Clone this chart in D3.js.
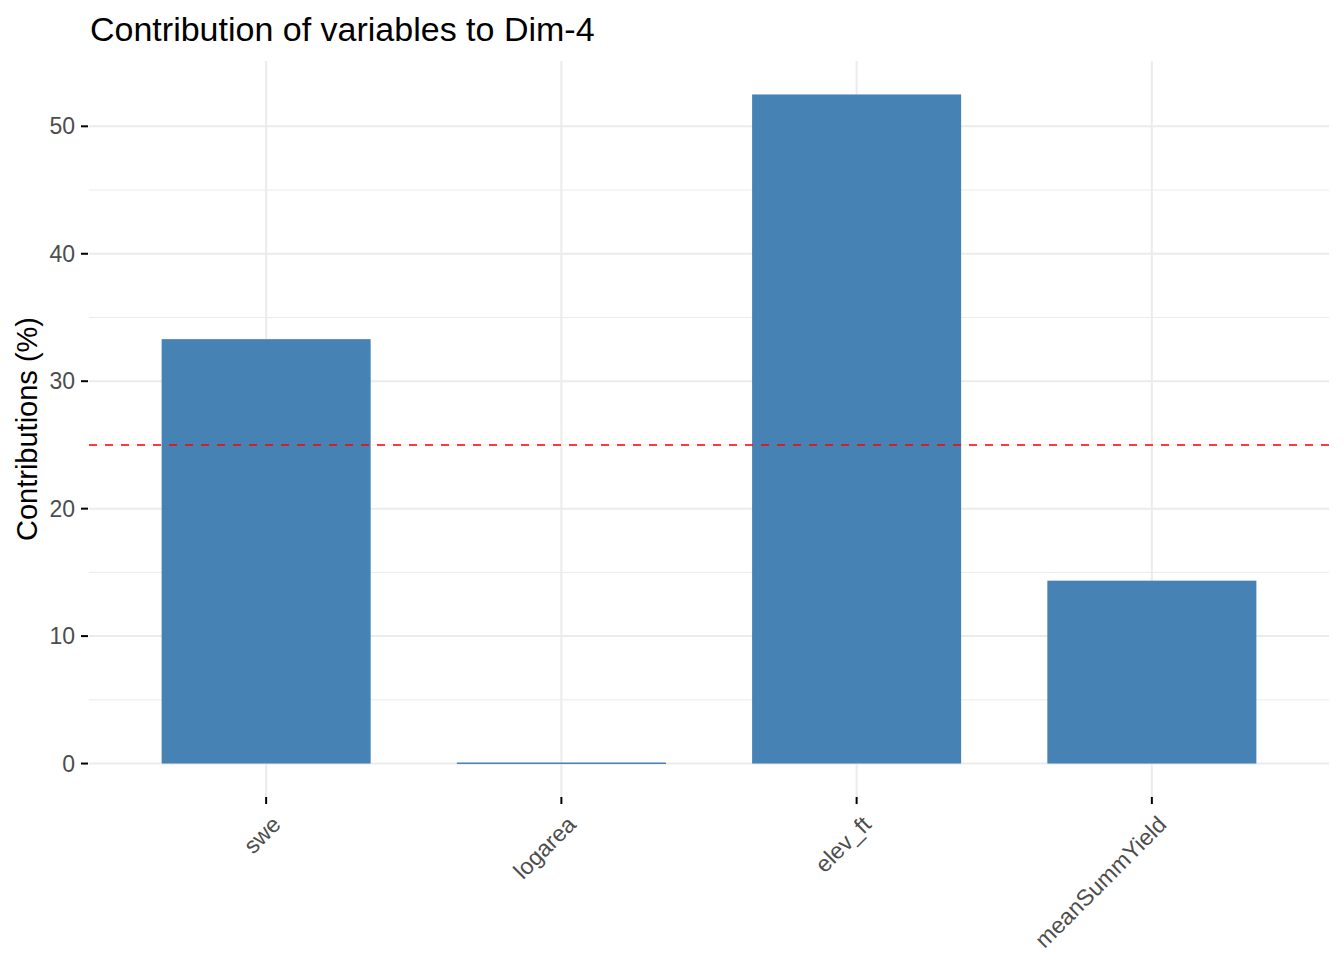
<!DOCTYPE html>
<html><head><meta charset="utf-8">
<script src="https://cdn.jsdelivr.net/npm/d3@7"></script>
<style>body{margin:0;background:#fff}svg{display:block}text{font-family:"Liberation Sans",Arial,sans-serif}</style>
</head><body>
<svg id="c" width="1344" height="960"></svg>
<script>
const categories = ["swe", "logarea", "elev_ft", "meanSummYield"];
const contributions = [33.3, 0.08, 52.5, 14.35];
const refLine = 25;
const yTicks = [0, 10, 20, 30, 40, 50];
const yMinor = [5, 15, 25, 35, 45];
const titleText = "Contribution of variables to Dim-4";
const yTitle = "Contributions (%)";

const svg = d3.select("#c");
const panel = {left: 89, right: 1329, top: 61, bottom: 797};

const maxV = d3.max(contributions);
const ext = maxV * 0.05;
const y = d3.scaleLinear().domain([-ext, maxV + ext]).range([panel.bottom, panel.top]);
const xc = d3.scaleLinear().domain([0.4, categories.length + 0.6]).range([panel.left, panel.right]);
const x = i => xc(i + 1);
const barW = (xc(1.708) - xc(1));

svg.append("g").selectAll("line").data(yMinor).join("line")
  .attr("x1", panel.left).attr("x2", panel.right)
  .attr("y1", d => y(d)).attr("y2", d => y(d))
  .attr("stroke", "#ebebeb").attr("stroke-width", 1);
svg.append("g").selectAll("line").data(yTicks).join("line")
  .attr("x1", panel.left).attr("x2", panel.right)
  .attr("y1", d => y(d)).attr("y2", d => y(d))
  .attr("stroke", "#ebebeb").attr("stroke-width", 2);
svg.append("g").selectAll("line").data(categories).join("line")
  .attr("x1", (d, i) => x(i)).attr("x2", (d, i) => x(i))
  .attr("y1", panel.top).attr("y2", panel.bottom)
  .attr("stroke", "#ebebeb").attr("stroke-width", 2);

svg.append("g").selectAll("rect").data(contributions).join("rect")
  .attr("x", (d, i) => x(i) - barW / 2)
  .attr("width", barW)
  .attr("y", d => y(d))
  .attr("height", d => Math.max(1.5, y(0) - y(d)))
  .attr("fill", "#4682B4");

svg.append("line")
  .attr("x1", panel.left).attr("x2", panel.right)
  .attr("y1", y(refLine)).attr("y2", y(refLine))
  .attr("stroke", "red").attr("stroke-width", 1.6)
  .attr("stroke-dasharray", "8,8");

const ya = svg.append("g");
ya.selectAll("line").data(yTicks).join("line")
  .attr("x1", panel.left - 8).attr("x2", panel.left - 1)
  .attr("y1", d => y(d)).attr("y2", d => y(d))
  .attr("stroke", "#000").attr("stroke-width", 2);
ya.selectAll("text").data(yTicks).join("text")
  .attr("x", panel.left - 14).attr("y", d => y(d))
  .attr("dy", "0.35em").attr("text-anchor", "end")
  .attr("fill", "#4d4d4d").attr("font-size", 23)
  .text(d => d);

const xa = svg.append("g");
xa.selectAll("line").data(categories).join("line")
  .attr("x1", (d, i) => x(i)).attr("x2", (d, i) => x(i))
  .attr("y1", panel.bottom).attr("y2", panel.bottom + 7)
  .attr("stroke", "#000").attr("stroke-width", 2);
xa.selectAll("text").data(categories).join("text")
  .attr("transform", (d, i) => `translate(${x(i) + 16},${panel.bottom + 29}) rotate(-45)`)
  .attr("text-anchor", "end")
  .attr("fill", "#4d4d4d").attr("font-size", 23)
  .text(d => d);

svg.append("text").attr("x", 90).attr("y", 41)
  .attr("font-size", 34).attr("fill", "#000").text(titleText);
svg.append("text")
  .attr("transform", `translate(37,${(panel.top + panel.bottom) / 2}) rotate(-90)`)
  .attr("text-anchor", "middle")
  .attr("font-size", 29).attr("fill", "#000").text(yTitle);
</script>
</body></html>
